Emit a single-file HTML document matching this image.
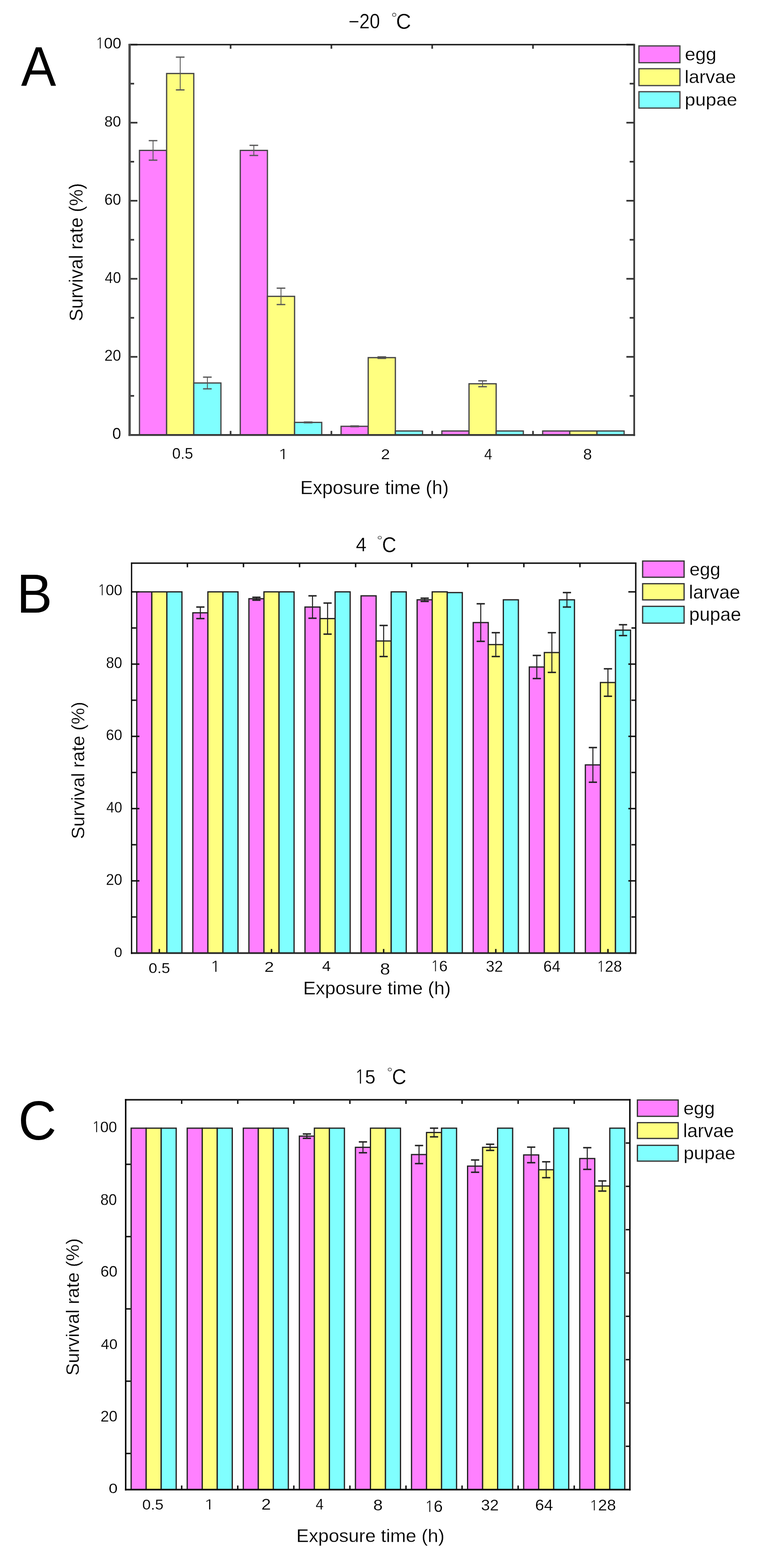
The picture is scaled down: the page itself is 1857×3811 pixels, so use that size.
<!DOCTYPE html>
<html><head><meta charset="utf-8"><title>Survival rate figure</title>
<style>
html,body{margin:0;padding:0;background:#fff;}
svg{display:block;}
text{font-family:"Liberation Sans",sans-serif;font-size:100px;stroke:#fff;}
</style></head><body>
<svg width="1857" height="3811" viewBox="0 0 1857 3811">

<rect width="1857" height="3811" fill="#fff"/>
<g>
<rect x="339.00" y="365.54" width="66.00" height="691.46" fill="#ff80ff" stroke="#444" stroke-width="3"/>
<rect x="405.00" y="178.69" width="66.00" height="878.31" fill="#ffff80" stroke="#444" stroke-width="3"/>
<rect x="471.00" y="930.85" width="66.00" height="126.15" fill="#80ffff" stroke="#444" stroke-width="3"/>
<rect x="584.00" y="365.54" width="66.00" height="691.46" fill="#ff80ff" stroke="#444" stroke-width="3"/>
<rect x="650.00" y="720.28" width="66.00" height="336.72" fill="#ffff80" stroke="#444" stroke-width="3"/>
<rect x="716.00" y="1026.65" width="66.00" height="30.35" fill="#80ffff" stroke="#444" stroke-width="3"/>
<rect x="829.00" y="1036.13" width="66.00" height="20.87" fill="#ff80ff" stroke="#444" stroke-width="3"/>
<rect x="895.00" y="869.20" width="66.00" height="187.80" fill="#ffff80" stroke="#444" stroke-width="3"/>
<rect x="961.00" y="1047.52" width="66.00" height="9.48" fill="#80ffff" stroke="#444" stroke-width="3"/>
<rect x="1074.00" y="1047.52" width="66.00" height="9.48" fill="#ff80ff" stroke="#444" stroke-width="3"/>
<rect x="1140.00" y="932.75" width="66.00" height="124.25" fill="#ffff80" stroke="#444" stroke-width="3"/>
<rect x="1206.00" y="1047.52" width="66.00" height="9.48" fill="#80ffff" stroke="#444" stroke-width="3"/>
<rect x="1319.00" y="1047.52" width="66.00" height="9.48" fill="#ff80ff" stroke="#444" stroke-width="3"/>
<rect x="1385.00" y="1047.52" width="66.00" height="9.48" fill="#ffff80" stroke="#444" stroke-width="3"/>
<rect x="1451.00" y="1047.52" width="66.00" height="9.48" fill="#80ffff" stroke="#444" stroke-width="3"/>
<line x1="372.00" y1="341.83" x2="372.00" y2="389.26" stroke="#555" stroke-width="2"/>
<line x1="361.50" y1="341.83" x2="382.50" y2="341.83" stroke="#555" stroke-width="3"/>
<line x1="361.50" y1="389.26" x2="382.50" y2="389.26" stroke="#555" stroke-width="3"/>
<line x1="438.00" y1="138.85" x2="438.00" y2="218.53" stroke="#555" stroke-width="2"/>
<line x1="427.50" y1="138.85" x2="448.50" y2="138.85" stroke="#555" stroke-width="3"/>
<line x1="427.50" y1="218.53" x2="448.50" y2="218.53" stroke="#555" stroke-width="3"/>
<line x1="504.00" y1="916.62" x2="504.00" y2="945.08" stroke="#555" stroke-width="2"/>
<line x1="493.50" y1="916.62" x2="514.50" y2="916.62" stroke="#555" stroke-width="3"/>
<line x1="493.50" y1="945.08" x2="514.50" y2="945.08" stroke="#555" stroke-width="3"/>
<line x1="617.00" y1="353.21" x2="617.00" y2="377.87" stroke="#555" stroke-width="2"/>
<line x1="606.50" y1="353.21" x2="627.50" y2="353.21" stroke="#555" stroke-width="3"/>
<line x1="606.50" y1="377.87" x2="627.50" y2="377.87" stroke="#555" stroke-width="3"/>
<line x1="683.00" y1="700.36" x2="683.00" y2="740.20" stroke="#555" stroke-width="2"/>
<line x1="672.50" y1="700.36" x2="693.50" y2="700.36" stroke="#555" stroke-width="3"/>
<line x1="672.50" y1="740.20" x2="693.50" y2="740.20" stroke="#555" stroke-width="3"/>
<line x1="749.00" y1="1025.70" x2="749.00" y2="1027.60" stroke="#555" stroke-width="2"/>
<line x1="738.50" y1="1025.70" x2="759.50" y2="1025.70" stroke="#555" stroke-width="3"/>
<line x1="738.50" y1="1027.60" x2="759.50" y2="1027.60" stroke="#555" stroke-width="3"/>
<line x1="862.00" y1="1035.18" x2="862.00" y2="1037.08" stroke="#555" stroke-width="2"/>
<line x1="851.50" y1="1035.18" x2="872.50" y2="1035.18" stroke="#555" stroke-width="3"/>
<line x1="851.50" y1="1037.08" x2="872.50" y2="1037.08" stroke="#555" stroke-width="3"/>
<line x1="928.00" y1="867.30" x2="928.00" y2="871.09" stroke="#555" stroke-width="2"/>
<line x1="917.50" y1="867.30" x2="938.50" y2="867.30" stroke="#555" stroke-width="3"/>
<line x1="917.50" y1="871.09" x2="938.50" y2="871.09" stroke="#555" stroke-width="3"/>
<line x1="1173.00" y1="925.63" x2="1173.00" y2="939.86" stroke="#555" stroke-width="2"/>
<line x1="1162.50" y1="925.63" x2="1183.50" y2="925.63" stroke="#555" stroke-width="3"/>
<line x1="1162.50" y1="939.86" x2="1183.50" y2="939.86" stroke="#555" stroke-width="3"/>
<line x1="315.00" y1="1057.00" x2="334.00" y2="1057.00" stroke="#333" stroke-width="4"/>
<line x1="315.00" y1="962.15" x2="326.00" y2="962.15" stroke="#333" stroke-width="4"/>
<line x1="315.00" y1="867.30" x2="334.00" y2="867.30" stroke="#333" stroke-width="4"/>
<line x1="315.00" y1="772.45" x2="326.00" y2="772.45" stroke="#333" stroke-width="4"/>
<line x1="315.00" y1="677.60" x2="334.00" y2="677.60" stroke="#333" stroke-width="4"/>
<line x1="315.00" y1="582.75" x2="326.00" y2="582.75" stroke="#333" stroke-width="4"/>
<line x1="315.00" y1="487.90" x2="334.00" y2="487.90" stroke="#333" stroke-width="4"/>
<line x1="315.00" y1="393.05" x2="326.00" y2="393.05" stroke="#333" stroke-width="4"/>
<line x1="315.00" y1="298.20" x2="334.00" y2="298.20" stroke="#333" stroke-width="4"/>
<line x1="315.00" y1="203.35" x2="326.00" y2="203.35" stroke="#333" stroke-width="4"/>
<line x1="315.00" y1="108.50" x2="334.00" y2="108.50" stroke="#333" stroke-width="4"/>
<line x1="1522.50" y1="1057.00" x2="1541.50" y2="1057.00" stroke="#333" stroke-width="4"/>
<line x1="1530.50" y1="962.15" x2="1541.50" y2="962.15" stroke="#333" stroke-width="4"/>
<line x1="1522.50" y1="867.30" x2="1541.50" y2="867.30" stroke="#333" stroke-width="4"/>
<line x1="1530.50" y1="772.45" x2="1541.50" y2="772.45" stroke="#333" stroke-width="4"/>
<line x1="1522.50" y1="677.60" x2="1541.50" y2="677.60" stroke="#333" stroke-width="4"/>
<line x1="1530.50" y1="582.75" x2="1541.50" y2="582.75" stroke="#333" stroke-width="4"/>
<line x1="1522.50" y1="487.90" x2="1541.50" y2="487.90" stroke="#333" stroke-width="4"/>
<line x1="1530.50" y1="393.05" x2="1541.50" y2="393.05" stroke="#333" stroke-width="4"/>
<line x1="1522.50" y1="298.20" x2="1541.50" y2="298.20" stroke="#333" stroke-width="4"/>
<line x1="1530.50" y1="203.35" x2="1541.50" y2="203.35" stroke="#333" stroke-width="4"/>
<line x1="1522.50" y1="108.50" x2="1541.50" y2="108.50" stroke="#333" stroke-width="4"/>
<line x1="560.50" y1="108.50" x2="560.50" y2="118.50" stroke="#333" stroke-width="4"/>
<line x1="805.50" y1="108.50" x2="805.50" y2="118.50" stroke="#333" stroke-width="4"/>
<line x1="1050.50" y1="108.50" x2="1050.50" y2="118.50" stroke="#333" stroke-width="4"/>
<line x1="1295.50" y1="108.50" x2="1295.50" y2="118.50" stroke="#333" stroke-width="4"/>
<line x1="560.50" y1="1047.30" x2="560.50" y2="1057.30" stroke="#333" stroke-width="4"/>
<line x1="805.50" y1="1047.30" x2="805.50" y2="1057.30" stroke="#333" stroke-width="4"/>
<line x1="1050.50" y1="1047.30" x2="1050.50" y2="1057.30" stroke="#333" stroke-width="4"/>
<line x1="1295.50" y1="1047.30" x2="1295.50" y2="1057.30" stroke="#333" stroke-width="4"/>
<line x1="312.20" y1="108.50" x2="1543.50" y2="108.50" stroke="#1a1a1a" stroke-width="3.4"/>
<line x1="312.20" y1="1057.30" x2="1543.50" y2="1057.30" stroke="#383838" stroke-width="4.6"/>
<line x1="315.00" y1="106.80" x2="315.00" y2="1059.60" stroke="#4a4a4a" stroke-width="5.6"/>
<line x1="1541.50" y1="106.80" x2="1541.50" y2="1059.60" stroke="#333" stroke-width="4"/>
<rect x="1553.00" y="111.60" width="99.70" height="40.80" fill="#ff80ff" stroke="#444" stroke-width="3"/>
<rect x="1553.00" y="167.00" width="99.70" height="41.00" fill="#ffff80" stroke="#444" stroke-width="3"/>
<rect x="1553.00" y="222.90" width="99.70" height="39.80" fill="#80ffff" stroke="#444" stroke-width="3"/>
<text transform="matrix(1.27576,0,0,1.35797,51.20,208.20)" fill="#000" stroke-width="0.00">A</text>
<text transform="matrix(0.45031,0,0,0.49437,847.25,68.91)" fill="#000" stroke-width="0.74">−20</text>
<text transform="matrix(0.37143,0,0,0.37500,950.77,57.25)" fill="#666" stroke-width="0.00">°</text>
<text transform="matrix(0.50794,0,0,0.51690,962.46,70.48)" fill="#000" stroke-width="0.68">C</text>
<text transform="matrix(0.37800,0,0,0.37222,231.69,117.93)" fill="#000" stroke-width="0.67"><tspan font-family="NanumGothic, Liberation Sans, sans-serif" font-size="94.6">1</tspan><tspan dx="-1.72">0</tspan>0</text>
<text transform="matrix(0.36250,0,0,0.37746,253.85,308.42)" fill="#000" stroke-width="0.68">80</text>
<text transform="matrix(0.36408,0,0,0.38169,253.68,497.62)" fill="#000" stroke-width="0.67">60</text>
<text transform="matrix(0.35377,0,0,0.38028,254.79,688.02)" fill="#000" stroke-width="0.68">40</text>
<text transform="matrix(0.36408,0,0,0.38028,253.68,877.32)" fill="#000" stroke-width="0.67">20</text>
<text transform="matrix(0.38542,0,0,0.38028,272.96,1066.92)" fill="#000" stroke-width="0.65">0</text>
<text transform="matrix(0.36641,0,0,0.36620,418.53,1114.63)" fill="#000" stroke-width="0.68">0.5</text>
<text transform="matrix(0.47273,0,0,0.35211,674.65,1116.00)" fill="#000" stroke-width="0.61"><tspan font-family="NanumGothic, Liberation Sans, sans-serif" font-size="94.6">1</tspan></text>
<text transform="matrix(0.39130,0,0,0.35714,926.04,1116.00)" fill="#000" stroke-width="0.67">2</text>
<text transform="matrix(0.34902,0,0,0.36232,1176.90,1117.00)" fill="#000" stroke-width="0.70">4</text>
<text transform="matrix(0.38298,0,0,0.36620,1417.47,1116.63)" fill="#000" stroke-width="0.67">8</text>
<text transform="matrix(0.45716,0,0,0.45591,729.94,1200.63)" fill="#000" stroke-width="0.77">Exposure time (h)</text>
<text transform="matrix(0,-0.45426,0.46237,0,201.19,780.77)" fill="#000" stroke-width="0.76">Survival rate (%)</text>
<text transform="matrix(0.45769,0,0,0.45067,1664.77,146.64)" fill="#000" stroke-width="0.77">egg</text>
<text transform="matrix(0.45900,0,0,0.43562,1663.99,202.16)" fill="#000" stroke-width="0.78">larvae</text>
<text transform="matrix(0.45843,0,0,0.43333,1664.45,256.60)" fill="#000" stroke-width="0.78">pupae</text>
<rect x="332.40" y="1438.50" width="36.60" height="878.00" fill="#ff80ff" stroke="#222" stroke-width="3"/>
<rect x="369.00" y="1438.50" width="36.60" height="878.00" fill="#ffff80" stroke="#222" stroke-width="3"/>
<rect x="405.60" y="1438.50" width="36.60" height="878.00" fill="#80ffff" stroke="#222" stroke-width="3"/>
<rect x="468.70" y="1489.42" width="36.60" height="827.08" fill="#ff80ff" stroke="#222" stroke-width="3"/>
<rect x="505.30" y="1438.50" width="36.60" height="878.00" fill="#ffff80" stroke="#222" stroke-width="3"/>
<rect x="541.90" y="1438.50" width="36.60" height="878.00" fill="#80ffff" stroke="#222" stroke-width="3"/>
<rect x="605.00" y="1455.18" width="36.60" height="861.32" fill="#ff80ff" stroke="#222" stroke-width="3"/>
<rect x="641.60" y="1438.50" width="36.60" height="878.00" fill="#ffff80" stroke="#222" stroke-width="3"/>
<rect x="678.20" y="1438.50" width="36.60" height="878.00" fill="#80ffff" stroke="#222" stroke-width="3"/>
<rect x="741.30" y="1475.38" width="36.60" height="841.12" fill="#ff80ff" stroke="#222" stroke-width="3"/>
<rect x="777.90" y="1503.47" width="36.60" height="813.03" fill="#ffff80" stroke="#222" stroke-width="3"/>
<rect x="814.50" y="1438.50" width="36.60" height="878.00" fill="#80ffff" stroke="#222" stroke-width="3"/>
<rect x="877.60" y="1448.16" width="36.60" height="868.34" fill="#ff80ff" stroke="#222" stroke-width="3"/>
<rect x="914.20" y="1557.91" width="36.60" height="758.59" fill="#ffff80" stroke="#222" stroke-width="3"/>
<rect x="950.80" y="1438.50" width="36.60" height="878.00" fill="#80ffff" stroke="#222" stroke-width="3"/>
<rect x="1013.90" y="1457.82" width="36.60" height="858.68" fill="#ff80ff" stroke="#222" stroke-width="3"/>
<rect x="1050.50" y="1438.50" width="36.60" height="878.00" fill="#ffff80" stroke="#222" stroke-width="3"/>
<rect x="1087.10" y="1440.26" width="36.60" height="876.24" fill="#80ffff" stroke="#222" stroke-width="3"/>
<rect x="1150.20" y="1513.13" width="36.60" height="803.37" fill="#ff80ff" stroke="#222" stroke-width="3"/>
<rect x="1186.80" y="1566.69" width="36.60" height="749.81" fill="#ffff80" stroke="#222" stroke-width="3"/>
<rect x="1223.40" y="1457.82" width="36.60" height="858.68" fill="#80ffff" stroke="#222" stroke-width="3"/>
<rect x="1286.50" y="1621.12" width="36.60" height="695.38" fill="#ff80ff" stroke="#222" stroke-width="3"/>
<rect x="1323.10" y="1586.00" width="36.60" height="730.50" fill="#ffff80" stroke="#222" stroke-width="3"/>
<rect x="1359.70" y="1457.82" width="36.60" height="858.68" fill="#80ffff" stroke="#222" stroke-width="3"/>
<rect x="1422.80" y="1859.06" width="36.60" height="457.44" fill="#ff80ff" stroke="#222" stroke-width="3"/>
<rect x="1459.40" y="1658.88" width="36.60" height="657.62" fill="#ffff80" stroke="#222" stroke-width="3"/>
<rect x="1496.00" y="1531.57" width="36.60" height="784.93" fill="#80ffff" stroke="#222" stroke-width="3"/>
<line x1="487.00" y1="1475.38" x2="487.00" y2="1503.47" stroke="#222" stroke-width="2.5"/>
<line x1="477.00" y1="1475.38" x2="497.00" y2="1475.38" stroke="#222" stroke-width="3.5"/>
<line x1="477.00" y1="1503.47" x2="497.00" y2="1503.47" stroke="#222" stroke-width="3.5"/>
<line x1="623.30" y1="1451.67" x2="623.30" y2="1458.69" stroke="#222" stroke-width="2.5"/>
<line x1="613.30" y1="1451.67" x2="633.30" y2="1451.67" stroke="#222" stroke-width="3.5"/>
<line x1="613.30" y1="1458.69" x2="633.30" y2="1458.69" stroke="#222" stroke-width="3.5"/>
<line x1="759.60" y1="1448.16" x2="759.60" y2="1502.59" stroke="#222" stroke-width="2.5"/>
<line x1="749.60" y1="1448.16" x2="769.60" y2="1448.16" stroke="#222" stroke-width="3.5"/>
<line x1="749.60" y1="1502.59" x2="769.60" y2="1502.59" stroke="#222" stroke-width="3.5"/>
<line x1="796.20" y1="1465.72" x2="796.20" y2="1541.23" stroke="#222" stroke-width="2.5"/>
<line x1="786.20" y1="1465.72" x2="806.20" y2="1465.72" stroke="#222" stroke-width="3.5"/>
<line x1="786.20" y1="1541.23" x2="806.20" y2="1541.23" stroke="#222" stroke-width="3.5"/>
<line x1="932.50" y1="1520.15" x2="932.50" y2="1595.66" stroke="#222" stroke-width="2.5"/>
<line x1="922.50" y1="1520.15" x2="942.50" y2="1520.15" stroke="#222" stroke-width="3.5"/>
<line x1="922.50" y1="1595.66" x2="942.50" y2="1595.66" stroke="#222" stroke-width="3.5"/>
<line x1="1032.20" y1="1453.87" x2="1032.20" y2="1461.77" stroke="#222" stroke-width="2.5"/>
<line x1="1022.20" y1="1453.87" x2="1042.20" y2="1453.87" stroke="#222" stroke-width="3.5"/>
<line x1="1022.20" y1="1461.77" x2="1042.20" y2="1461.77" stroke="#222" stroke-width="3.5"/>
<line x1="1168.50" y1="1467.47" x2="1168.50" y2="1558.79" stroke="#222" stroke-width="2.5"/>
<line x1="1158.50" y1="1467.47" x2="1178.50" y2="1467.47" stroke="#222" stroke-width="3.5"/>
<line x1="1158.50" y1="1558.79" x2="1178.50" y2="1558.79" stroke="#222" stroke-width="3.5"/>
<line x1="1205.10" y1="1537.71" x2="1205.10" y2="1595.66" stroke="#222" stroke-width="2.5"/>
<line x1="1195.10" y1="1537.71" x2="1215.10" y2="1537.71" stroke="#222" stroke-width="3.5"/>
<line x1="1195.10" y1="1595.66" x2="1215.10" y2="1595.66" stroke="#222" stroke-width="3.5"/>
<line x1="1304.80" y1="1593.03" x2="1304.80" y2="1649.22" stroke="#222" stroke-width="2.5"/>
<line x1="1294.80" y1="1593.03" x2="1314.80" y2="1593.03" stroke="#222" stroke-width="3.5"/>
<line x1="1294.80" y1="1649.22" x2="1314.80" y2="1649.22" stroke="#222" stroke-width="3.5"/>
<line x1="1341.40" y1="1537.71" x2="1341.40" y2="1634.29" stroke="#222" stroke-width="2.5"/>
<line x1="1331.40" y1="1537.71" x2="1351.40" y2="1537.71" stroke="#222" stroke-width="3.5"/>
<line x1="1331.40" y1="1634.29" x2="1351.40" y2="1634.29" stroke="#222" stroke-width="3.5"/>
<line x1="1378.00" y1="1440.26" x2="1378.00" y2="1475.38" stroke="#222" stroke-width="2.5"/>
<line x1="1368.00" y1="1440.26" x2="1388.00" y2="1440.26" stroke="#222" stroke-width="3.5"/>
<line x1="1368.00" y1="1475.38" x2="1388.00" y2="1475.38" stroke="#222" stroke-width="3.5"/>
<line x1="1441.10" y1="1816.92" x2="1441.10" y2="1901.21" stroke="#222" stroke-width="2.5"/>
<line x1="1431.10" y1="1816.92" x2="1451.10" y2="1816.92" stroke="#222" stroke-width="3.5"/>
<line x1="1431.10" y1="1901.21" x2="1451.10" y2="1901.21" stroke="#222" stroke-width="3.5"/>
<line x1="1477.70" y1="1625.51" x2="1477.70" y2="1692.24" stroke="#222" stroke-width="2.5"/>
<line x1="1467.70" y1="1625.51" x2="1487.70" y2="1625.51" stroke="#222" stroke-width="3.5"/>
<line x1="1467.70" y1="1692.24" x2="1487.70" y2="1692.24" stroke="#222" stroke-width="3.5"/>
<line x1="1514.30" y1="1518.40" x2="1514.30" y2="1544.74" stroke="#222" stroke-width="2.5"/>
<line x1="1504.30" y1="1518.40" x2="1524.30" y2="1518.40" stroke="#222" stroke-width="3.5"/>
<line x1="1504.30" y1="1544.74" x2="1524.30" y2="1544.74" stroke="#222" stroke-width="3.5"/>
<line x1="319.80" y1="2316.50" x2="338.80" y2="2316.50" stroke="#111" stroke-width="3.5"/>
<line x1="319.80" y1="2228.70" x2="330.80" y2="2228.70" stroke="#111" stroke-width="3.5"/>
<line x1="319.80" y1="2140.90" x2="338.80" y2="2140.90" stroke="#111" stroke-width="3.5"/>
<line x1="319.80" y1="2053.10" x2="330.80" y2="2053.10" stroke="#111" stroke-width="3.5"/>
<line x1="319.80" y1="1965.30" x2="338.80" y2="1965.30" stroke="#111" stroke-width="3.5"/>
<line x1="319.80" y1="1877.50" x2="330.80" y2="1877.50" stroke="#111" stroke-width="3.5"/>
<line x1="319.80" y1="1789.70" x2="338.80" y2="1789.70" stroke="#111" stroke-width="3.5"/>
<line x1="319.80" y1="1701.90" x2="330.80" y2="1701.90" stroke="#111" stroke-width="3.5"/>
<line x1="319.80" y1="1614.10" x2="338.80" y2="1614.10" stroke="#111" stroke-width="3.5"/>
<line x1="319.80" y1="1526.30" x2="330.80" y2="1526.30" stroke="#111" stroke-width="3.5"/>
<line x1="319.80" y1="1438.50" x2="338.80" y2="1438.50" stroke="#111" stroke-width="3.5"/>
<line x1="1527.30" y1="2316.50" x2="1545.30" y2="2316.50" stroke="#111" stroke-width="3.5"/>
<line x1="1534.80" y1="2228.70" x2="1545.30" y2="2228.70" stroke="#111" stroke-width="3.5"/>
<line x1="1527.30" y1="2140.90" x2="1545.30" y2="2140.90" stroke="#111" stroke-width="3.5"/>
<line x1="1534.80" y1="2053.10" x2="1545.30" y2="2053.10" stroke="#111" stroke-width="3.5"/>
<line x1="1527.30" y1="1965.30" x2="1545.30" y2="1965.30" stroke="#111" stroke-width="3.5"/>
<line x1="1534.80" y1="1877.50" x2="1545.30" y2="1877.50" stroke="#111" stroke-width="3.5"/>
<line x1="1527.30" y1="1789.70" x2="1545.30" y2="1789.70" stroke="#111" stroke-width="3.5"/>
<line x1="1534.80" y1="1701.90" x2="1545.30" y2="1701.90" stroke="#111" stroke-width="3.5"/>
<line x1="1527.30" y1="1614.10" x2="1545.30" y2="1614.10" stroke="#111" stroke-width="3.5"/>
<line x1="1534.80" y1="1526.30" x2="1545.30" y2="1526.30" stroke="#111" stroke-width="3.5"/>
<line x1="1527.30" y1="1438.50" x2="1545.30" y2="1438.50" stroke="#111" stroke-width="3.5"/>
<line x1="455.50" y1="1368.70" x2="455.50" y2="1378.70" stroke="#111" stroke-width="3.5"/>
<line x1="591.80" y1="1368.70" x2="591.80" y2="1378.70" stroke="#111" stroke-width="3.5"/>
<line x1="728.10" y1="1368.70" x2="728.10" y2="1378.70" stroke="#111" stroke-width="3.5"/>
<line x1="864.40" y1="1368.70" x2="864.40" y2="1378.70" stroke="#111" stroke-width="3.5"/>
<line x1="1000.70" y1="1368.70" x2="1000.70" y2="1378.70" stroke="#111" stroke-width="3.5"/>
<line x1="1137.00" y1="1368.70" x2="1137.00" y2="1378.70" stroke="#111" stroke-width="3.5"/>
<line x1="1273.30" y1="1368.70" x2="1273.30" y2="1378.70" stroke="#111" stroke-width="3.5"/>
<line x1="1409.60" y1="1368.70" x2="1409.60" y2="1378.70" stroke="#111" stroke-width="3.5"/>
<line x1="387.30" y1="2306.50" x2="387.30" y2="2316.50" stroke="#111" stroke-width="3.5"/>
<line x1="659.90" y1="2306.50" x2="659.90" y2="2316.50" stroke="#111" stroke-width="3.5"/>
<line x1="932.50" y1="2306.50" x2="932.50" y2="2316.50" stroke="#111" stroke-width="3.5"/>
<line x1="1205.10" y1="2306.50" x2="1205.10" y2="2316.50" stroke="#111" stroke-width="3.5"/>
<line x1="1477.70" y1="2306.50" x2="1477.70" y2="2316.50" stroke="#111" stroke-width="3.5"/>
<line x1="318.30" y1="1368.70" x2="1547.05" y2="1368.70" stroke="#111" stroke-width="3.5"/>
<line x1="318.30" y1="2316.50" x2="1547.05" y2="2316.50" stroke="#222" stroke-width="3.8"/>
<line x1="319.80" y1="1366.95" x2="319.80" y2="2318.40" stroke="#000" stroke-width="3"/>
<line x1="1545.30" y1="1366.95" x2="1545.30" y2="2318.40" stroke="#111" stroke-width="3.5"/>
<rect x="1562.00" y="1363.60" width="100.80" height="39.40" fill="#ff80ff" stroke="#333" stroke-width="3"/>
<rect x="1562.00" y="1418.70" width="100.80" height="39.30" fill="#ffff80" stroke="#333" stroke-width="3"/>
<rect x="1562.00" y="1473.70" width="100.80" height="40.80" fill="#80ffff" stroke="#333" stroke-width="3"/>
<text transform="matrix(1.29630,0,0,1.33623,40.43,1488.50)" fill="#000" stroke-width="0.00">B</text>
<text transform="matrix(0.46471,0,0,0.48986,864.97,1340.10)" fill="#000" stroke-width="0.73">4</text>
<text transform="matrix(0.36429,0,0,0.31429,915.81,1323.50)" fill="#666" stroke-width="0.00">°</text>
<text transform="matrix(0.48254,0,0,0.51408,928.59,1342.29)" fill="#000" stroke-width="0.70">C</text>
<text transform="matrix(0.36133,0,0,0.37639,236.90,1447.42)" fill="#000" stroke-width="0.68"><tspan font-family="NanumGothic, Liberation Sans, sans-serif" font-size="94.6">1</tspan><tspan dx="-1.72">0</tspan>0</text>
<text transform="matrix(0.35192,0,0,0.39296,257.79,1624.31)" fill="#000" stroke-width="0.67">80</text>
<text transform="matrix(0.35534,0,0,0.37042,257.42,1799.23)" fill="#000" stroke-width="0.69">60</text>
<text transform="matrix(0.34528,0,0,0.37183,258.51,1974.63)" fill="#000" stroke-width="0.70">40</text>
<text transform="matrix(0.35534,0,0,0.38028,257.42,2150.62)" fill="#000" stroke-width="0.68">20</text>
<text transform="matrix(0.35417,0,0,0.33803,277.58,2325.66)" fill="#000" stroke-width="0.72">0</text>
<text transform="matrix(0.37557,0,0,0.35070,361.30,2364.95)" fill="#000" stroke-width="0.69">0.5</text>
<text transform="matrix(0.45455,0,0,0.38028,510.19,2361.50)" fill="#000" stroke-width="0.60"><tspan font-family="NanumGothic, Liberation Sans, sans-serif" font-size="94.6">1</tspan></text>
<text transform="matrix(0.41522,0,0,0.34286,642.82,2362.00)" fill="#000" stroke-width="0.66">2</text>
<text transform="matrix(0.37647,0,0,0.34493,782.95,2359.80)" fill="#000" stroke-width="0.69">4</text>
<text transform="matrix(0.44043,0,0,0.40423,923.84,2369.00)" fill="#000" stroke-width="0.83">8</text>
<text transform="matrix(0.37234,0,0,0.37639,1046.66,2361.02)" fill="#000" stroke-width="0.67"><tspan font-family="NanumGothic, Liberation Sans, sans-serif" font-size="94.6">1</tspan><tspan dx="-1.72">6</tspan></text>
<text transform="matrix(0.37476,0,0,0.38592,1180.90,2362.01)" fill="#000" stroke-width="0.66">32</text>
<text transform="matrix(0.37019,0,0,0.38592,1320.85,2362.01)" fill="#000" stroke-width="0.66">64</text>
<text transform="matrix(0.36913,0,0,0.38056,1450.10,2362.02)" fill="#000" stroke-width="0.67"><tspan font-family="NanumGothic, Liberation Sans, sans-serif" font-size="94.6">1</tspan><tspan dx="-1.72">2</tspan>8</text>
<text transform="matrix(0.45445,0,0,0.44946,737.06,2417.36)" fill="#000" stroke-width="0.77">Exposure time (h)</text>
<text transform="matrix(0,-0.45192,0.43763,0,204.51,2039.26)" fill="#000" stroke-width="0.79">Survival rate (%)</text>
<text transform="matrix(0.45000,0,0,0.44133,1676.00,1398.73)" fill="#000" stroke-width="0.79">egg</text>
<text transform="matrix(0.45670,0,0,0.47123,1674.60,1454.73)" fill="#000" stroke-width="0.75">larvae</text>
<text transform="matrix(0.45393,0,0,0.45867,1675.08,1508.67)" fill="#000" stroke-width="0.77">pupae</text>
<rect x="318.75" y="2742.00" width="36.50" height="878.50" fill="#ff80ff" stroke="#222" stroke-width="3"/>
<rect x="355.25" y="2742.00" width="36.50" height="878.50" fill="#ffff80" stroke="#222" stroke-width="3"/>
<rect x="391.75" y="2742.00" width="36.50" height="878.50" fill="#80ffff" stroke="#222" stroke-width="3"/>
<rect x="455.05" y="2742.00" width="36.50" height="878.50" fill="#ff80ff" stroke="#222" stroke-width="3"/>
<rect x="491.55" y="2742.00" width="36.50" height="878.50" fill="#ffff80" stroke="#222" stroke-width="3"/>
<rect x="528.05" y="2742.00" width="36.50" height="878.50" fill="#80ffff" stroke="#222" stroke-width="3"/>
<rect x="591.35" y="2742.00" width="36.50" height="878.50" fill="#ff80ff" stroke="#222" stroke-width="3"/>
<rect x="627.85" y="2742.00" width="36.50" height="878.50" fill="#ffff80" stroke="#222" stroke-width="3"/>
<rect x="664.35" y="2742.00" width="36.50" height="878.50" fill="#80ffff" stroke="#222" stroke-width="3"/>
<rect x="727.65" y="2761.33" width="36.50" height="859.17" fill="#ff80ff" stroke="#222" stroke-width="3"/>
<rect x="764.15" y="2742.00" width="36.50" height="878.50" fill="#ffff80" stroke="#222" stroke-width="3"/>
<rect x="800.65" y="2742.00" width="36.50" height="878.50" fill="#80ffff" stroke="#222" stroke-width="3"/>
<rect x="863.95" y="2788.56" width="36.50" height="831.94" fill="#ff80ff" stroke="#222" stroke-width="3"/>
<rect x="900.45" y="2742.00" width="36.50" height="878.50" fill="#ffff80" stroke="#222" stroke-width="3"/>
<rect x="936.95" y="2742.00" width="36.50" height="878.50" fill="#80ffff" stroke="#222" stroke-width="3"/>
<rect x="1000.25" y="2806.13" width="36.50" height="814.37" fill="#ff80ff" stroke="#222" stroke-width="3"/>
<rect x="1036.75" y="2752.54" width="36.50" height="867.96" fill="#ffff80" stroke="#222" stroke-width="3"/>
<rect x="1073.25" y="2742.00" width="36.50" height="878.50" fill="#80ffff" stroke="#222" stroke-width="3"/>
<rect x="1136.55" y="2834.24" width="36.50" height="786.26" fill="#ff80ff" stroke="#222" stroke-width="3"/>
<rect x="1173.05" y="2788.56" width="36.50" height="831.94" fill="#ffff80" stroke="#222" stroke-width="3"/>
<rect x="1209.55" y="2742.00" width="36.50" height="878.50" fill="#80ffff" stroke="#222" stroke-width="3"/>
<rect x="1272.85" y="2807.01" width="36.50" height="813.49" fill="#ff80ff" stroke="#222" stroke-width="3"/>
<rect x="1309.35" y="2843.03" width="36.50" height="777.47" fill="#ffff80" stroke="#222" stroke-width="3"/>
<rect x="1345.85" y="2742.00" width="36.50" height="878.50" fill="#80ffff" stroke="#222" stroke-width="3"/>
<rect x="1409.15" y="2815.79" width="36.50" height="804.71" fill="#ff80ff" stroke="#222" stroke-width="3"/>
<rect x="1445.65" y="2882.56" width="36.50" height="737.94" fill="#ffff80" stroke="#222" stroke-width="3"/>
<rect x="1482.15" y="2742.00" width="36.50" height="878.50" fill="#80ffff" stroke="#222" stroke-width="3"/>
<line x1="745.90" y1="2756.06" x2="745.90" y2="2766.60" stroke="#222" stroke-width="2.5"/>
<line x1="735.90" y1="2756.06" x2="755.90" y2="2756.06" stroke="#222" stroke-width="3.5"/>
<line x1="735.90" y1="2766.60" x2="755.90" y2="2766.60" stroke="#222" stroke-width="3.5"/>
<line x1="882.20" y1="2775.38" x2="882.20" y2="2801.74" stroke="#222" stroke-width="2.5"/>
<line x1="872.20" y1="2775.38" x2="892.20" y2="2775.38" stroke="#222" stroke-width="3.5"/>
<line x1="872.20" y1="2801.74" x2="892.20" y2="2801.74" stroke="#222" stroke-width="3.5"/>
<line x1="1018.50" y1="2784.17" x2="1018.50" y2="2828.09" stroke="#222" stroke-width="2.5"/>
<line x1="1008.50" y1="2784.17" x2="1028.50" y2="2784.17" stroke="#222" stroke-width="3.5"/>
<line x1="1008.50" y1="2828.09" x2="1028.50" y2="2828.09" stroke="#222" stroke-width="3.5"/>
<line x1="1055.00" y1="2742.00" x2="1055.00" y2="2763.08" stroke="#222" stroke-width="2.5"/>
<line x1="1045.00" y1="2742.00" x2="1065.00" y2="2742.00" stroke="#222" stroke-width="3.5"/>
<line x1="1045.00" y1="2763.08" x2="1065.00" y2="2763.08" stroke="#222" stroke-width="3.5"/>
<line x1="1154.80" y1="2819.31" x2="1154.80" y2="2849.18" stroke="#222" stroke-width="2.5"/>
<line x1="1144.80" y1="2819.31" x2="1164.80" y2="2819.31" stroke="#222" stroke-width="3.5"/>
<line x1="1144.80" y1="2849.18" x2="1164.80" y2="2849.18" stroke="#222" stroke-width="3.5"/>
<line x1="1191.30" y1="2781.09" x2="1191.30" y2="2796.03" stroke="#222" stroke-width="2.5"/>
<line x1="1181.30" y1="2781.09" x2="1201.30" y2="2781.09" stroke="#222" stroke-width="3.5"/>
<line x1="1181.30" y1="2796.03" x2="1201.30" y2="2796.03" stroke="#222" stroke-width="3.5"/>
<line x1="1291.10" y1="2788.12" x2="1291.10" y2="2825.90" stroke="#222" stroke-width="2.5"/>
<line x1="1281.10" y1="2788.12" x2="1301.10" y2="2788.12" stroke="#222" stroke-width="3.5"/>
<line x1="1281.10" y1="2825.90" x2="1301.10" y2="2825.90" stroke="#222" stroke-width="3.5"/>
<line x1="1327.60" y1="2823.70" x2="1327.60" y2="2862.35" stroke="#222" stroke-width="2.5"/>
<line x1="1317.60" y1="2823.70" x2="1337.60" y2="2823.70" stroke="#222" stroke-width="3.5"/>
<line x1="1317.60" y1="2862.35" x2="1337.60" y2="2862.35" stroke="#222" stroke-width="3.5"/>
<line x1="1427.40" y1="2789.44" x2="1427.40" y2="2842.15" stroke="#222" stroke-width="2.5"/>
<line x1="1417.40" y1="2789.44" x2="1437.40" y2="2789.44" stroke="#222" stroke-width="3.5"/>
<line x1="1417.40" y1="2842.15" x2="1437.40" y2="2842.15" stroke="#222" stroke-width="3.5"/>
<line x1="1463.90" y1="2870.26" x2="1463.90" y2="2894.86" stroke="#222" stroke-width="2.5"/>
<line x1="1453.90" y1="2870.26" x2="1473.90" y2="2870.26" stroke="#222" stroke-width="3.5"/>
<line x1="1453.90" y1="2894.86" x2="1473.90" y2="2894.86" stroke="#222" stroke-width="3.5"/>
<line x1="305.50" y1="3532.65" x2="317.50" y2="3532.65" stroke="#111" stroke-width="3.5"/>
<line x1="305.50" y1="3356.95" x2="317.50" y2="3356.95" stroke="#111" stroke-width="3.5"/>
<line x1="305.50" y1="3181.25" x2="317.50" y2="3181.25" stroke="#111" stroke-width="3.5"/>
<line x1="305.50" y1="3005.55" x2="317.50" y2="3005.55" stroke="#111" stroke-width="3.5"/>
<line x1="305.50" y1="2829.85" x2="317.50" y2="2829.85" stroke="#111" stroke-width="3.5"/>
<line x1="1521.00" y1="3515.20" x2="1531.00" y2="3515.20" stroke="#111" stroke-width="3.5"/>
<line x1="1521.00" y1="3409.90" x2="1531.00" y2="3409.90" stroke="#111" stroke-width="3.5"/>
<line x1="1521.00" y1="3304.60" x2="1531.00" y2="3304.60" stroke="#111" stroke-width="3.5"/>
<line x1="1521.00" y1="3199.30" x2="1531.00" y2="3199.30" stroke="#111" stroke-width="3.5"/>
<line x1="1521.00" y1="3094.00" x2="1531.00" y2="3094.00" stroke="#111" stroke-width="3.5"/>
<line x1="1521.00" y1="2988.70" x2="1531.00" y2="2988.70" stroke="#111" stroke-width="3.5"/>
<line x1="1521.00" y1="2883.40" x2="1531.00" y2="2883.40" stroke="#111" stroke-width="3.5"/>
<line x1="1521.00" y1="2778.10" x2="1531.00" y2="2778.10" stroke="#111" stroke-width="3.5"/>
<line x1="441.60" y1="2673.00" x2="441.60" y2="2683.00" stroke="#111" stroke-width="3.5"/>
<line x1="577.90" y1="2673.00" x2="577.90" y2="2683.00" stroke="#111" stroke-width="3.5"/>
<line x1="714.20" y1="2673.00" x2="714.20" y2="2683.00" stroke="#111" stroke-width="3.5"/>
<line x1="850.50" y1="2673.00" x2="850.50" y2="2683.00" stroke="#111" stroke-width="3.5"/>
<line x1="986.80" y1="2673.00" x2="986.80" y2="2683.00" stroke="#111" stroke-width="3.5"/>
<line x1="1123.10" y1="2673.00" x2="1123.10" y2="2683.00" stroke="#111" stroke-width="3.5"/>
<line x1="1259.40" y1="2673.00" x2="1259.40" y2="2683.00" stroke="#111" stroke-width="3.5"/>
<line x1="1395.70" y1="2673.00" x2="1395.70" y2="2683.00" stroke="#111" stroke-width="3.5"/>
<line x1="441.60" y1="3610.50" x2="441.60" y2="3620.50" stroke="#111" stroke-width="3.5"/>
<line x1="577.90" y1="3610.50" x2="577.90" y2="3620.50" stroke="#111" stroke-width="3.5"/>
<line x1="714.20" y1="3610.50" x2="714.20" y2="3620.50" stroke="#111" stroke-width="3.5"/>
<line x1="850.50" y1="3610.50" x2="850.50" y2="3620.50" stroke="#111" stroke-width="3.5"/>
<line x1="986.80" y1="3610.50" x2="986.80" y2="3620.50" stroke="#111" stroke-width="3.5"/>
<line x1="1123.10" y1="3610.50" x2="1123.10" y2="3620.50" stroke="#111" stroke-width="3.5"/>
<line x1="1259.40" y1="3610.50" x2="1259.40" y2="3620.50" stroke="#111" stroke-width="3.5"/>
<line x1="1395.70" y1="3610.50" x2="1395.70" y2="3620.50" stroke="#111" stroke-width="3.5"/>
<line x1="303.75" y1="2673.00" x2="1532.75" y2="2673.00" stroke="#222" stroke-width="3.8"/>
<line x1="303.75" y1="3620.50" x2="1532.75" y2="3620.50" stroke="#111" stroke-width="4"/>
<line x1="305.50" y1="2671.10" x2="305.50" y2="3622.50" stroke="#000" stroke-width="3.5"/>
<line x1="1531.00" y1="2671.10" x2="1531.00" y2="3622.50" stroke="#000" stroke-width="3.5"/>
<rect x="1549.30" y="2673.50" width="99.10" height="39.70" fill="#ff80ff" stroke="#333" stroke-width="3"/>
<rect x="1549.30" y="2728.60" width="99.10" height="38.40" fill="#ffff80" stroke="#333" stroke-width="3"/>
<rect x="1549.30" y="2783.70" width="99.10" height="38.40" fill="#80ffff" stroke="#333" stroke-width="3"/>
<text transform="matrix(1.28254,0,0,1.34085,44.59,2769.66)" fill="#000" stroke-width="0.00">C</text>
<text transform="matrix(0.45579,0,0,0.48889,861.87,2633.51)" fill="#000" stroke-width="0.74"><tspan font-family="NanumGothic, Liberation Sans, sans-serif" font-size="94.6">1</tspan><tspan dx="-1.72">5</tspan></text>
<text transform="matrix(0.36071,0,0,0.33929,940.14,2618.45)" fill="#666" stroke-width="0.00">°</text>
<text transform="matrix(0.48413,0,0,0.51549,952.68,2634.88)" fill="#000" stroke-width="0.70">C</text>
<text transform="matrix(0.36667,0,0,0.37639,223.13,2752.22)" fill="#000" stroke-width="0.67"><tspan font-family="NanumGothic, Liberation Sans, sans-serif" font-size="94.6">1</tspan><tspan dx="-1.72">0</tspan>0</text>
<text transform="matrix(0.36058,0,0,0.39296,243.96,2929.11)" fill="#000" stroke-width="0.66">80</text>
<text transform="matrix(0.37282,0,0,0.36197,244.14,3103.24)" fill="#000" stroke-width="0.68">60</text>
<text transform="matrix(0.36226,0,0,0.34366,245.28,3278.96)" fill="#000" stroke-width="0.71">40</text>
<text transform="matrix(0.37282,0,0,0.36056,244.14,3454.74)" fill="#000" stroke-width="0.68">20</text>
<text transform="matrix(0.38958,0,0,0.32676,264.14,3629.37)" fill="#000" stroke-width="0.70">0</text>
<text transform="matrix(0.37252,0,0,0.35634,345.71,3668.64)" fill="#000" stroke-width="0.69">0.5</text>
<text transform="matrix(0.48636,0,0,0.35634,494.28,3669.00)" fill="#000" stroke-width="0.83"><tspan font-family="NanumGothic, Liberation Sans, sans-serif" font-size="94.6">1</tspan></text>
<text transform="matrix(0.41739,0,0,0.36143,635.31,3669.00)" fill="#000" stroke-width="0.64">2</text>
<text transform="matrix(0.34510,0,0,0.36667,767.31,3669.00)" fill="#000" stroke-width="0.70">4</text>
<text transform="matrix(0.41277,0,0,0.36761,907.35,3671.13)" fill="#000" stroke-width="0.64">8</text>
<text transform="matrix(0.39362,0,0,0.39861,1032.28,3675.30)" fill="#000" stroke-width="0.63"><tspan font-family="NanumGothic, Liberation Sans, sans-serif" font-size="94.6">1</tspan><tspan dx="-1.72">6</tspan></text>
<text transform="matrix(0.38738,0,0,0.36761,1169.15,3671.13)" fill="#000" stroke-width="0.66">32</text>
<text transform="matrix(0.39038,0,0,0.36761,1300.75,3671.13)" fill="#000" stroke-width="0.66">64</text>
<text transform="matrix(0.38993,0,0,0.36250,1432.13,3671.14)" fill="#000" stroke-width="0.66"><tspan font-family="NanumGothic, Liberation Sans, sans-serif" font-size="94.6">1</tspan><tspan dx="-1.72">2</tspan>8</text>
<text transform="matrix(0.45652,0,0,0.45161,720.25,3747.52)" fill="#000" stroke-width="0.77">Exposure time (h)</text>
<text transform="matrix(0,-0.45165,0.43656,0,191.73,3343.26)" fill="#000" stroke-width="0.79">Survival rate (%)</text>
<text transform="matrix(0.45705,0,0,0.45067,1661.17,2708.54)" fill="#000" stroke-width="0.77">egg</text>
<text transform="matrix(0.45402,0,0,0.46164,1660.42,2764.04)" fill="#000" stroke-width="0.76">larvae</text>
<text transform="matrix(0.45356,0,0,0.45067,1661.48,2817.54)" fill="#000" stroke-width="0.77">pupae</text>
</g>
</svg>
</body></html>
